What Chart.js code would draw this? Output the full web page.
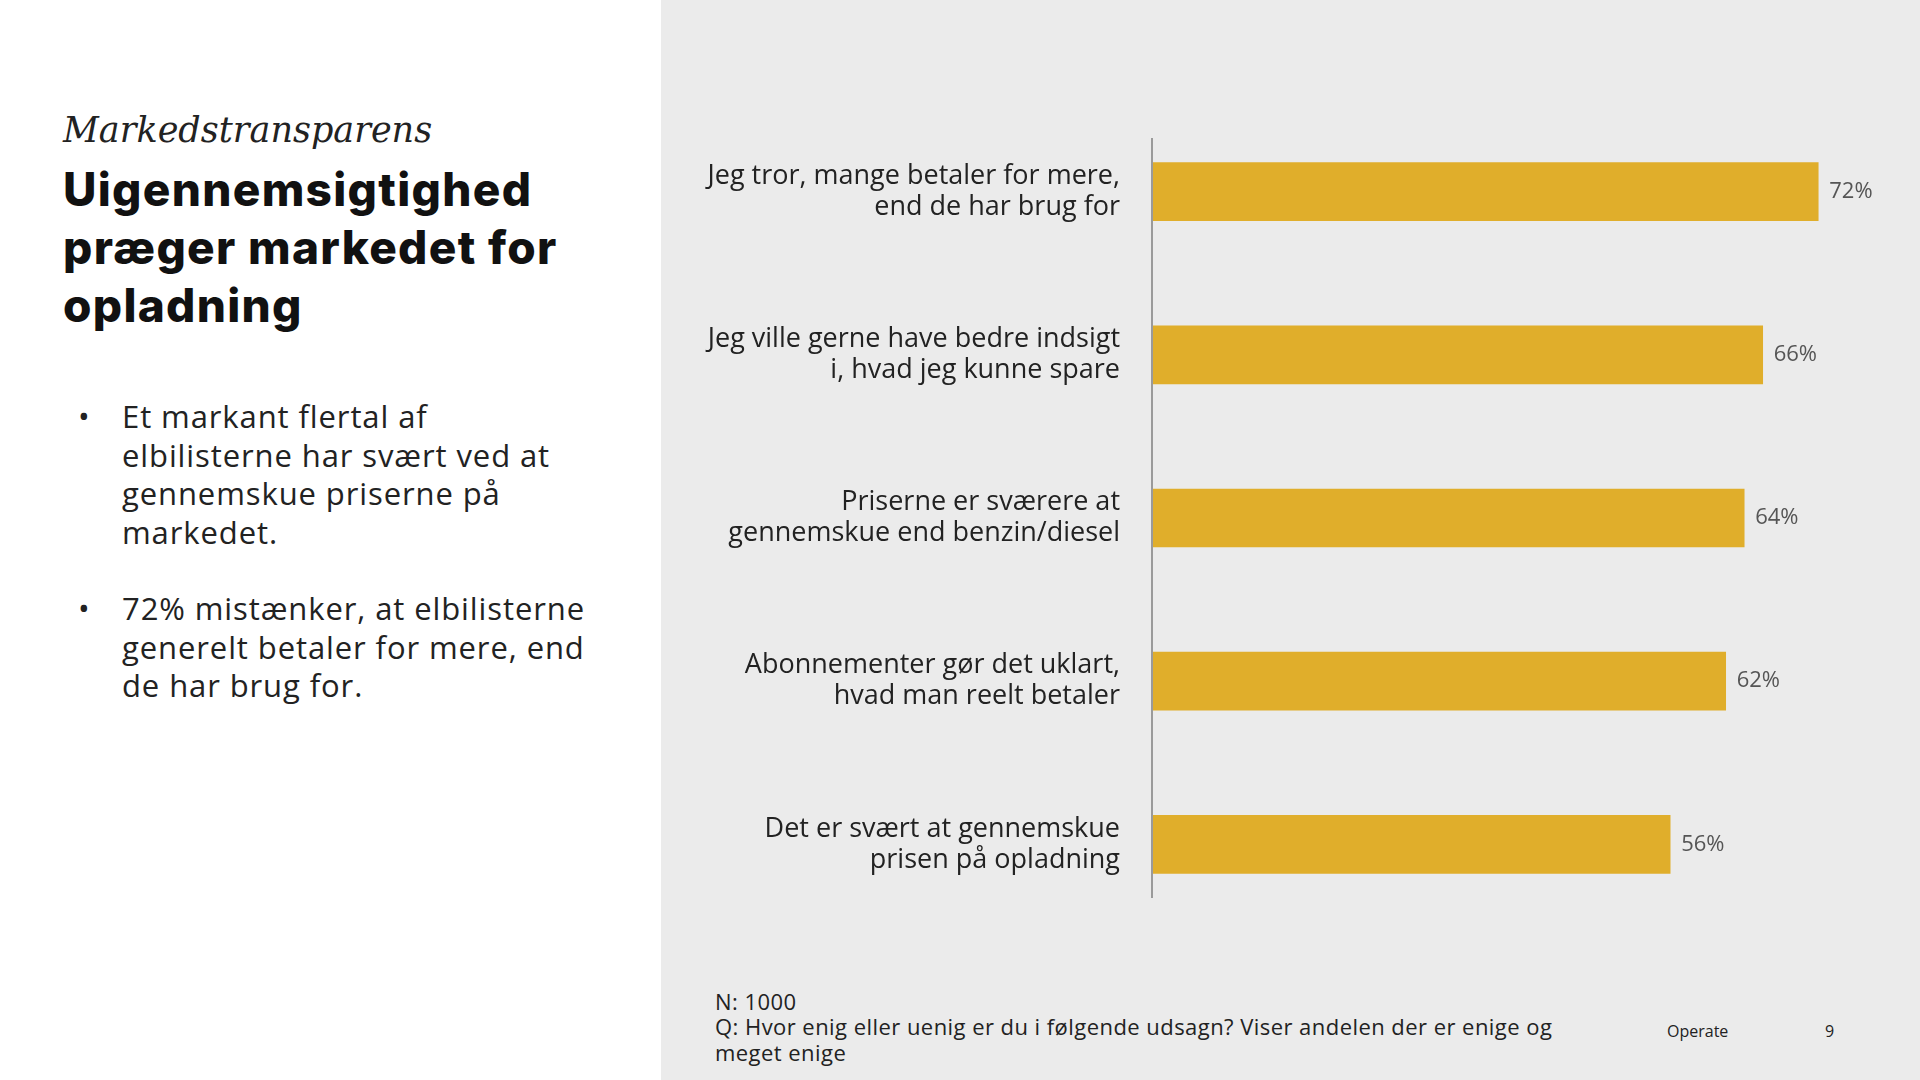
<!DOCTYPE html>
<html>
<head>
<meta charset="UTF-8">
<script src="https://cdn.jsdelivr.net/npm/chart.js"></script>
<style>
  body { margin: 0; width: 1920px; height: 1080px; background: #fff; font-family: "Open Sans", sans-serif; color: #111; overflow: hidden; position: relative; }
  .panel { position: absolute; left: 661px; top: 0; width: 1259px; height: 1080px; background: #ebebeb; }
  .t { position: absolute; white-space: nowrap; }
  #sub { left: 63px; top: 110px; font: italic 35px "DejaVu Serif", serif; color: #222; }
  #title { left: 63px; top: 160px; font: 800 46px Inter, sans-serif; letter-spacing: 1.3px; line-height: 58px; white-space: normal; width: 580px; }
  .bul { position: absolute; left: 122px; font-size: 31px; letter-spacing: 0.9px; line-height: 38.5px; color: #222; width: 470px; }
  .bul:before { content: "•"; position: absolute; left: -44px; }
  #b1 { top: 397px; }
  #b2 { top: 589px; }
  .foot { font-size: 22px; letter-spacing: 0.45px; color: #222; }
  #wrap { position: absolute; left: 661px; top: 0; width: 1259px; height: 1080px; }
</style>
</head>
<body>
<div class="panel"></div>
<div class="t" id="sub">Markedstransparens</div>
<div class="t" id="title">Uigennemsigtighed præger markedet for opladning</div>
<div class="bul" id="b1">Et markant flertal af elbilisterne har svært ved at gennemskue priserne på markedet.</div>
<div class="bul" id="b2">72% mistænker, at elbilisterne generelt betaler for mere, end de har brug for.</div>
<div class="t foot" style="left:715px; top:986px;">N: 1000</div>
<div class="t foot" style="left:715px; top:1013px; line-height:26px;">Q: Hvor enig eller uenig er du i følgende udsagn? Viser andelen der er enige og<br>meget enige</div>
<div class="t" style="left:1667px; top:1020px; font-size:16px; color:#222;">Operate</div>
<div class="t" style="left:1825px; top:1020px; font-size:16px; color:#222;">9</div>
<div id="wrap"><canvas id="c" width="1259" height="1080"></canvas></div>
<script>
  var categories = [
    ["Jeg tror, mange betaler for mere,", "end de har brug for"],
    ["Jeg ville gerne have bedre indsigt", "i, hvad jeg kunne spare"],
    ["Priserne er sværere at", "gennemskue end benzin/diesel"],
    ["Abonnementer gør det uklart,", "hvad man reelt betaler"],
    ["Det er svært at gennemskue", "prisen på opladning"]
  ];
  var values = [72, 66, 64, 62, 56];

  var extras = {
    id: 'extras',
    afterDatasetsDraw: function (chart) {
      var ctx = chart.ctx, a = chart.chartArea;
      ctx.save();
      ctx.strokeStyle = '#9a9a9a';
      ctx.lineWidth = 2;
      ctx.beginPath();
      ctx.moveTo(a.left, a.top + 28);
      ctx.lineTo(a.left, a.bottom - 28);
      ctx.stroke();
      ctx.fillStyle = '#555';
      ctx.font = '22px "Open Sans", sans-serif';
      ctx.textBaseline = 'middle';
      chart.getDatasetMeta(0).data.forEach(function (bar, i) {
        ctx.fillText(values[i] + '%', bar.x + 11, bar.y);
      });
      ctx.restore();
    }
  };

  new Chart(document.getElementById('c'), {
    type: 'bar',
    data: { labels: categories, datasets: [{ data: values, backgroundColor: '#e0ae2b', barThickness: 58 }] },
    options: {
      indexAxis: 'y',
      responsive: false,
      animation: false,
      devicePixelRatio: 1,
      layout: { padding: { top: 110, bottom: 154, right: 0 } },
      plugins: { legend: { display: false }, tooltip: { enabled: false } },
      scales: {
        x: { display: false, min: 0, max: 83 },
        y: {
          grid: { display: false },
          border: { display: false },
          ticks: { color: '#222', font: { size: 27, family: 'Open Sans', lineHeight: 1.15 }, padding: 24 },
          afterFit: function (s) { s.width = 491; }
        }
      }
    },
    plugins: [extras]
  });
</script>
</body>
</html>
